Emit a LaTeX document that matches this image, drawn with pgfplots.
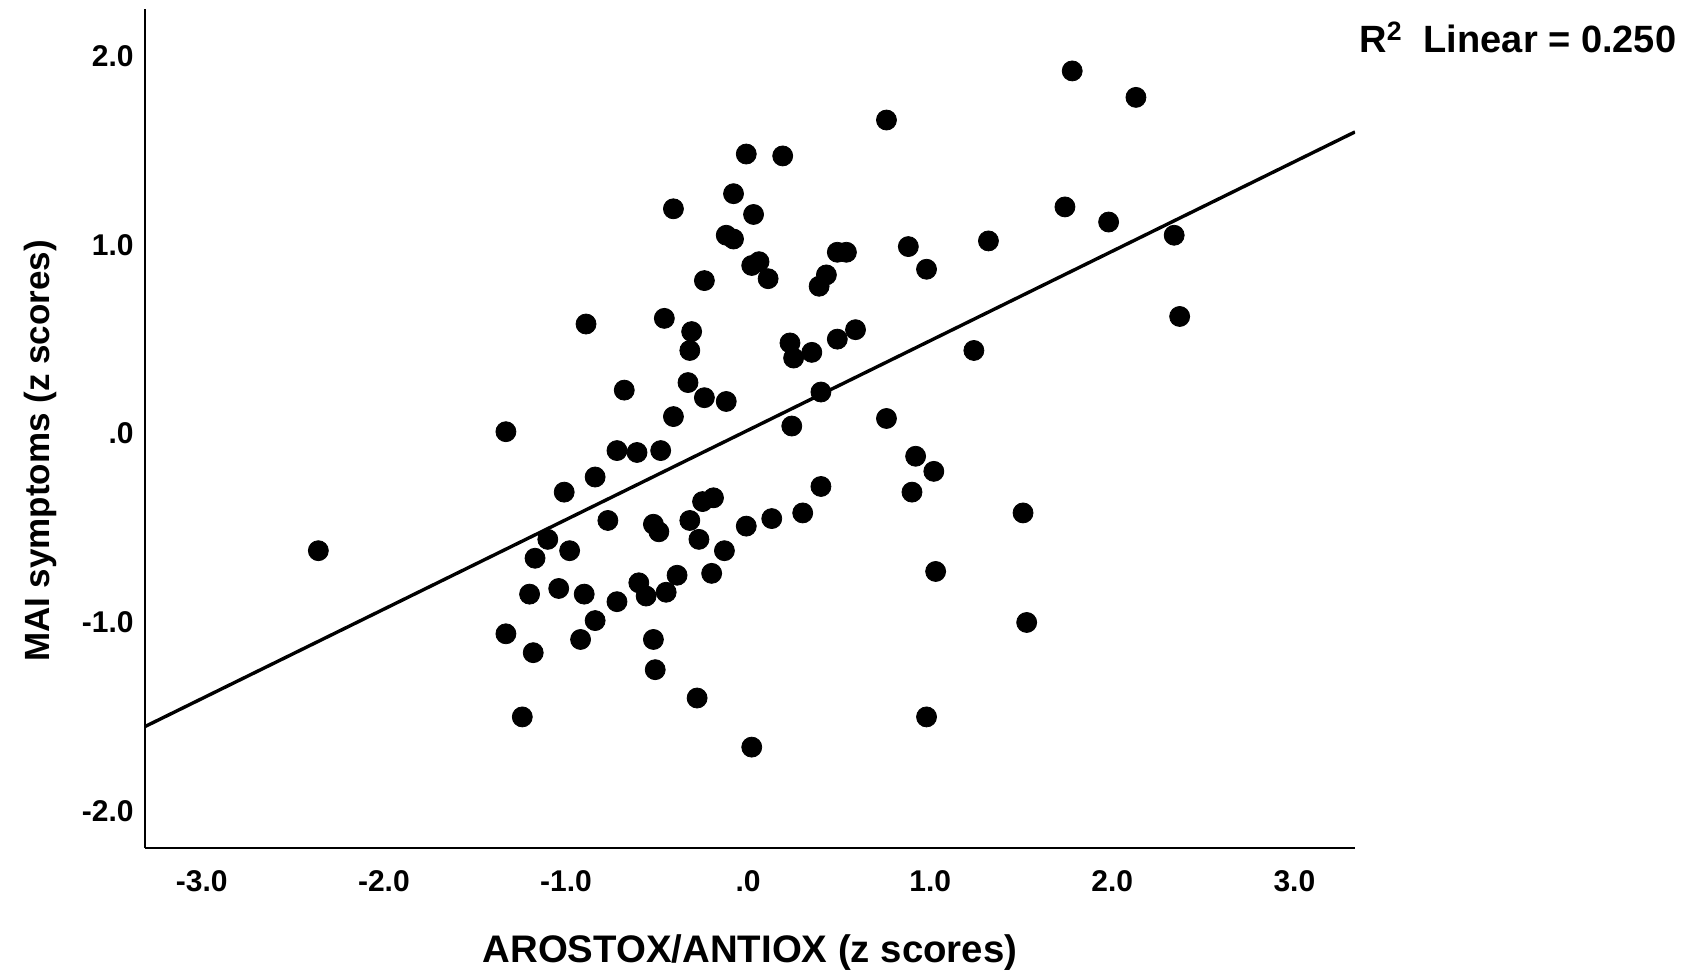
\documentclass[border=0pt]{standalone}
\usepackage{fontspec}
\setmainfont{Liberation Sans}
\usepackage{pgfplots}
\pgfplotsset{compat=1.18}
\begin{document}
\begin{tikzpicture}
\path[use as bounding box] (0,0) rectangle (841.5pt,485pt);
\begin{axis}[
  at={(72.5pt,61pt)}, anchor=south west,
  scale only axis, width=605pt, height=419.7pt,
  xmin=-3.312, xmax=3.333, ymin=-2.194, ymax=2.25,
  axis x line*=bottom, axis y line*=left,
  axis line style={line width=1.3pt},
  major tick length=0pt,
  xtick={-3,-2,-1,0,1,2,3}, xticklabels={-3.0,-2.0,-1.0,.0,1.0,2.0,3.0},
  ytick={-2,-1,0,1,2}, yticklabels={-2.0,-1.0,.0,1.0,2.0},
  tick label style={font=\fontsize{15pt}{18pt}\selectfont\bfseries},
  xticklabel style={anchor=north, inner sep=0pt}, xticklabel shift=11pt,
  yticklabel style={anchor=east, inner sep=0pt}, yticklabel shift=5.5pt,
  xlabel={AROSTOX/ANTIOX (z scores)},
  ylabel={MAI symptoms (z scores)},
  xlabel style={font=\fontsize{19.2pt}{22pt}\selectfont\bfseries, at={(axis description cs:0.5,-0.137)}, anchor=base},
  ylabel style={font=\fontsize{17.5pt}{20pt}\selectfont\bfseries, at={(axis description cs:-0.0793,0.473)}, anchor=base},
]
\addplot[only marks, mark=*, mark size=5pt, black] coordinates {
(1.78,1.92) (2.13,1.78) (0.76,1.66) (-0.01,1.48) (0.19,1.47)
(-0.08,1.27) (-0.41,1.19) (0.03,1.16) (1.74,1.20) (1.98,1.12)
(-0.12,1.05) (-0.08,1.03) (2.34,1.05) (1.32,1.02) (0.88,0.99)
(0.49,0.96) (0.54,0.96) (0.02,0.89) (0.06,0.91) (0.98,0.87)
(0.43,0.84) (0.11,0.82) (-0.24,0.81) (0.39,0.78) (-0.89,0.58)
(-0.46,0.61) (2.37,0.62) (-0.31,0.54) (0.59,0.55) (0.49,0.50)
(-0.32,0.44) (0.23,0.48) (0.35,0.43) (0.25,0.40) (1.24,0.44)
(-0.33,0.27) (-0.68,0.23) (-0.24,0.19) (-0.12,0.17) (0.40,0.22)
(-0.41,0.09) (0.76,0.08) (-1.33,0.01) (0.24,0.04) (-0.72,-0.09)
(-0.61,-0.10) (-0.48,-0.09) (0.92,-0.12) (1.02,-0.20) (-0.84,-0.23)
(-1.01,-0.31) (0.40,-0.28) (0.90,-0.31) (-0.19,-0.34) (-0.25,-0.36)
(1.51,-0.42) (-0.77,-0.46) (-0.32,-0.46) (-0.52,-0.48) (-0.49,-0.52)
(-0.01,-0.49) (0.13,-0.45) (0.30,-0.42) (-1.10,-0.56) (-0.27,-0.56)
(-0.98,-0.62) (-1.17,-0.66) (-2.36,-0.62) (-0.13,-0.62) (-0.39,-0.75)
(-0.20,-0.74) (1.03,-0.73) (-1.04,-0.82) (-1.20,-0.85) (-0.60,-0.79)
(-0.90,-0.85) (-0.72,-0.89) (-0.56,-0.86) (-0.45,-0.84) (-0.84,-0.99)
(1.53,-1.00) (-1.33,-1.06) (-0.92,-1.09) (-1.18,-1.16) (-0.52,-1.09)
(-0.51,-1.25) (-0.28,-1.40) (-1.24,-1.50) (0.98,-1.50) (0.02,-1.66)
};
\addplot[black, line width=1.7pt] coordinates {(-3.312,-1.551) (3.333,1.597)};
\end{axis}
\node[anchor=base west, inner sep=0pt, font=\fontsize{19pt}{21pt}\selectfont\bfseries] at (679.5pt,458.5pt) {R\textsuperscript{2}\ \ Linear = 0.250};
\end{tikzpicture}
\end{document}
